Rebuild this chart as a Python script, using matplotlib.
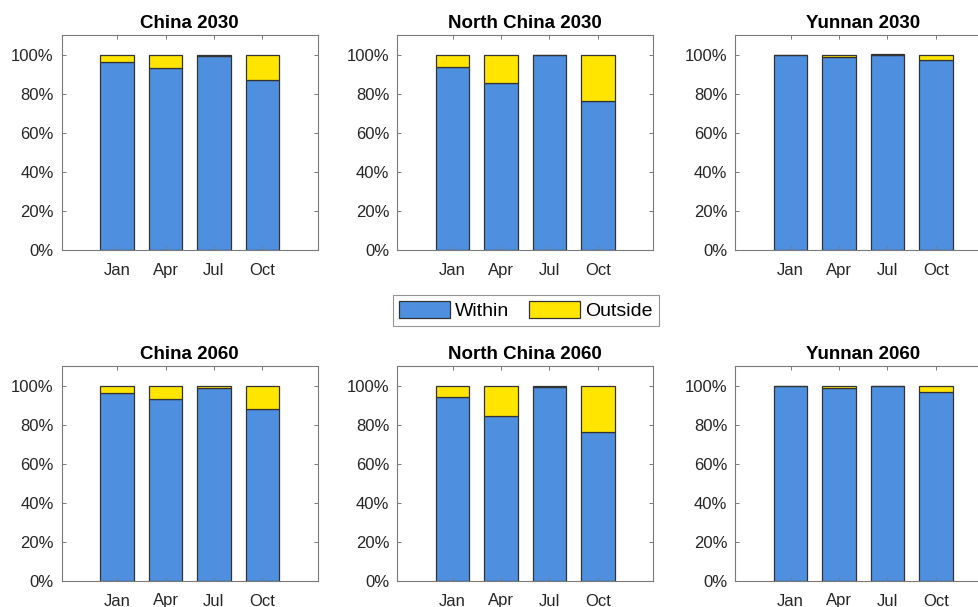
import numpy as np
import matplotlib
matplotlib.use("Agg")
import matplotlib.pyplot as plt
from matplotlib.patches import Patch
from matplotlib.ticker import FuncFormatter

plt.rcParams['font.family'] = ['Liberation Sans', 'DejaVu Sans']

months = ['Jan', 'Apr', 'Jul', 'Oct']
titles = ['China 2030', 'North China 2030', 'Yunnan 2030',
          'China 2060', 'North China 2060', 'Yunnan 2060']

# share of each month that falls within / outside the range
within_china_2030 = [0.962, 0.930, 0.993, 0.868]
outside_china_2030 = [0.038, 0.070, 0.007, 0.132]
within_north_2030 = [0.937, 0.856, 0.998, 0.764]
outside_north_2030 = [0.063, 0.144, 0.002, 0.236]
within_yunnan_2030 = [0.996, 0.988, 1.000, 0.971]
outside_yunnan_2030 = [0.004, 0.012, 0.005, 0.029]

within_china_2060 = [0.963, 0.930, 0.988, 0.880]
outside_china_2060 = [0.037, 0.070, 0.012, 0.120]
within_north_2060 = [0.942, 0.845, 0.995, 0.762]
outside_north_2060 = [0.058, 0.155, 0.005, 0.238]
within_yunnan_2060 = [0.997, 0.988, 0.999, 0.968]
outside_yunnan_2060 = [0.003, 0.012, 0.001, 0.032]

within_all = [within_china_2030, within_north_2030, within_yunnan_2030,
              within_china_2060, within_north_2060, within_yunnan_2060]
outside_all = [outside_china_2030, outside_north_2030, outside_yunnan_2030,
               outside_china_2060, outside_north_2060, outside_yunnan_2060]

blue = '#4E90DF'
yellow = '#FFE500'
edge = '#333333'
spine = '#7a7a7a'
txt = '#262626'

W, H = 979, 607
fig = plt.figure(figsize=(W / 100, H / 100), dpi=100)

lefts = [62, 397.5, 735.5]
bottoms = [250, 581]
aw, ah = 255.5, 215

x = np.arange(1, len(months) + 1)
pct = FuncFormatter(lambda v, p: f'{v * 100:.0f}%')

for k in range(6):
    r, c = divmod(k, 3)
    ax = fig.add_axes([lefts[c] / W, 1 - bottoms[r] / H, aw / W, ah / H])
    ax.bar(x, within_all[k], 0.69, color=blue, edgecolor=edge, linewidth=0.9)
    ax.bar(x, outside_all[k], 0.69, bottom=within_all[k], color=yellow,
           edgecolor=edge, linewidth=0.9)
    ax.set_xlim(-0.14, 5.14)
    ax.set_ylim(0, 1.1)
    ax.set_xticks(x)
    ax.set_xticklabels(months)
    ax.set_yticks(np.arange(0, 1.01, 0.2))
    ax.yaxis.set_major_formatter(pct)
    ax.tick_params(direction='in', length=3, width=0.7, colors=spine,
                   labelcolor=txt, labelsize=12, pad=6,
                   top=True, right=True)
    ax.tick_params(axis='x', pad=9)
    for s in ax.spines.values():
        s.set_color(spine)
        s.set_linewidth(0.8)
    ax.set_title(titles[k], fontsize=13.5, fontweight='bold', pad=5)

handles = [Patch(facecolor=blue, edgecolor=edge, linewidth=0.9, label='Within'),
           Patch(facecolor=yellow, edgecolor=edge, linewidth=0.9, label='Outside')]
leg = fig.legend(handles=handles, loc='center', ncol=2,
                 bbox_to_anchor=(526 / W, 1 - 310.5 / H),
                 fontsize=14, frameon=True, fancybox=False,
                 handlelength=2.6, handleheight=0.95, handletextpad=0.3,
                 columnspacing=1.0, borderpad=0.3, borderaxespad=0)
leg.get_frame().set_edgecolor(spine)
leg.get_frame().set_linewidth(0.8)

fig.savefig('out.png', dpi=100)
